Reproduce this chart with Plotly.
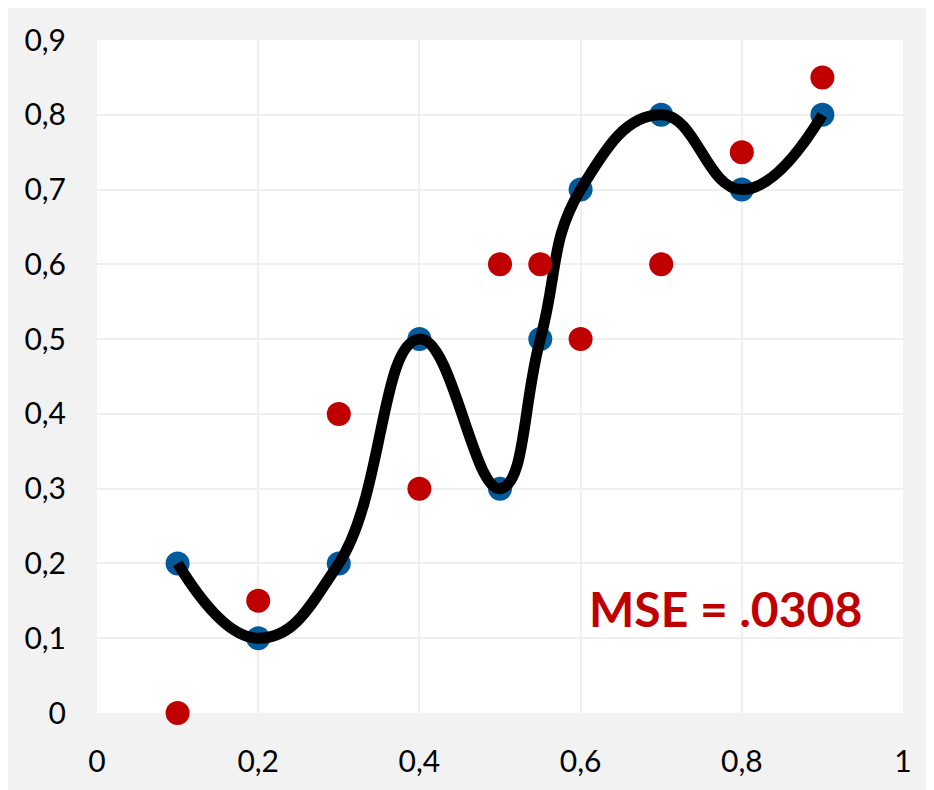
import plotly.graph_objects as go

# data
x_blue = [0.1, 0.2, 0.3, 0.4, 0.5, 0.55, 0.6, 0.7, 0.8, 0.9]
y_blue = [0.2, 0.1, 0.2, 0.5, 0.3, 0.5, 0.7, 0.8, 0.7, 0.8]
x_red = [0.1, 0.2, 0.3, 0.4, 0.5, 0.55, 0.6, 0.7, 0.8, 0.9]
y_red = [0.0, 0.15, 0.4, 0.3, 0.6, 0.6, 0.5, 0.6, 0.75, 0.85]
mse_label = "MSE = .0308"

blue = "#035a9a"
red = "#c00000"

fig = go.Figure()

fig.add_trace(go.Scatter(x=x_blue, y=y_blue, mode="markers", cliponaxis=False,
                         marker=dict(color=blue, size=24), showlegend=False))
fig.add_trace(go.Scatter(x=x_blue, y=y_blue, mode="lines", cliponaxis=False,
                         line=dict(color="black", width=11, shape="spline", smoothing=1.3),
                         showlegend=False))
fig.add_trace(go.Scatter(x=x_red, y=y_red, mode="markers", cliponaxis=False,
                         marker=dict(color=red, size=24), showlegend=False))

fig.add_annotation(x=0.78, y=0.14, xref="x", yref="y", text="<b>" + mse_label + "</b>",
                   showarrow=False, font=dict(family="Lato", size=48, color=red))

fig.update_layout(
    width=926, height=782,
    margin=dict(l=89, r=31, t=28, b=66),
    paper_bgcolor="#f2f2f2", plot_bgcolor="white",
    separators=", ",
    font=dict(family="Lato", size=30, color="black"),
    xaxis=dict(range=[0, 1], dtick=0.2, tick0=0, showgrid=True, gridcolor="#efefef",
               gridwidth=2, zeroline=False, showline=False, ticks="outside", ticklen=22,
               tickcolor="rgba(0,0,0,0)", fixedrange=True),
    yaxis=dict(range=[0, 0.9], dtick=0.1, tick0=0, showgrid=True, gridcolor="#efefef",
               gridwidth=2, zeroline=False, showline=False, ticks="outside", ticklen=24,
               tickcolor="rgba(0,0,0,0)", fixedrange=True),
)

fig.write_html("out.html")
